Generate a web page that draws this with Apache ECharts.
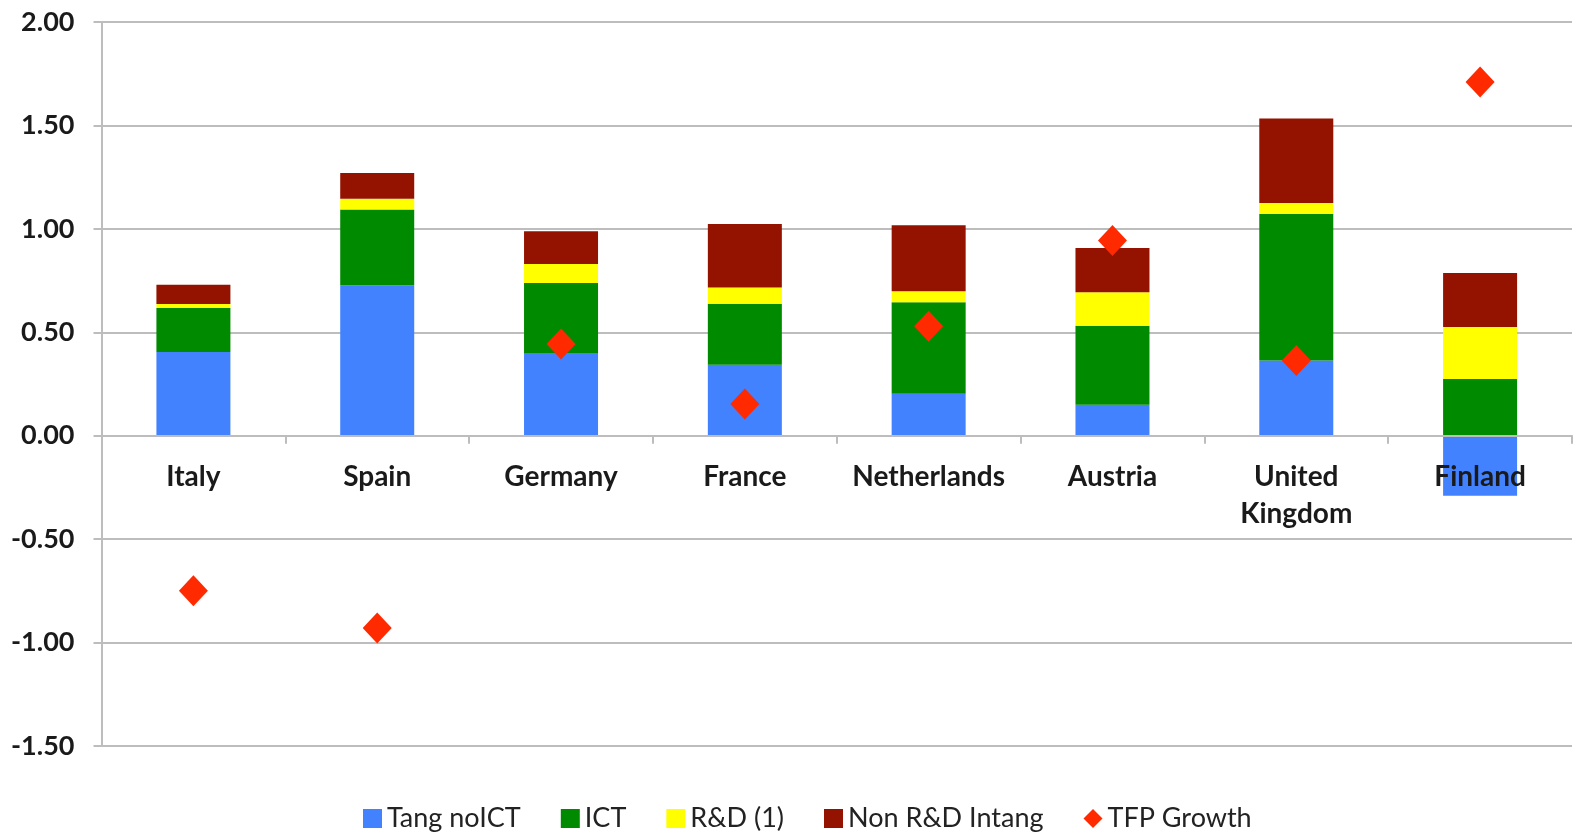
<!DOCTYPE html>
<html>
<head>
<meta charset="utf-8">
<script src="https://cdn.jsdelivr.net/npm/echarts@6/dist/echarts.min.js"></script>
<style>
html,body{margin:0;padding:0;background:#fff;}
#chart{width:1573px;height:833px;}
</style>
</head>
<body>
<div id="chart"></div>
<script>
const categories = ['Italy','Spain','Germany','France','Netherlands','Austria','United Kingdom','Finland'];
const tangNoICT = [0.405, 0.727, 0.400, 0.343, 0.203, 0.150, 0.364, -0.290];
const ict       = [0.212, 0.366, 0.338, 0.295, 0.442, 0.382, 0.708, 0.274];
const rnd       = [0.020, 0.053, 0.092, 0.079, 0.053, 0.161, 0.053, 0.252];
const nonRnd    = [0.093, 0.124, 0.158, 0.307, 0.319, 0.215, 0.408, 0.261];
const tfpGrowth = [-0.75, -0.93, 0.443, 0.153, 0.529, 0.944, 0.364, 1.71];
const yTicks = {min:-1.5, max:2, interval:0.5};

const W = 1573, H = 833;
const gridTop = 22, gridBottom = 87;
const gridH = H - gridTop - gridBottom;
const zeroOffset = -gridH * (0 - yTicks.min) / (yTicks.max - yTicks.min);

const chart = echarts.init(document.getElementById('chart'), null, {renderer:'canvas'});
const gridColor = '#bdbdbd';
const barSeries = (name, data, color) => ({
  name, type:'bar', stack:'total', data, barWidth:74,
  itemStyle:{color}, emphasis:{disabled:true}
});
chart.setOption({
  animation:false,
  backgroundColor:'#ffffff',
  grid:{left:101.5, right:1, top:gridTop, bottom:gridBottom, containLabel:false, outerBoundsMode:'none'},
  legend:{
    top:800, left:358,
    itemWidth:19, itemHeight:19, itemGap:40,
    textStyle:{fontFamily:'Lato', fontSize:27, color:'#222'},
    data:[
      {name:'Tang noICT', icon:'rect'},
      {name:'ICT', icon:'rect'},
      {name:'R&D (1)', icon:'rect'},
      {name:'Non R&D Intang', icon:'rect'},
      {name:'TFP Growth', icon:'diamond'}
    ]
  },
  xAxis:{
    type:'category', data:categories, z:10,
    position:'bottom', offset:zeroOffset,
    axisLine:{onZero:false, lineStyle:{color:gridColor, width:2}},
    axisTick:{show:true, length:8, lineStyle:{color:gridColor, width:2}},
    axisLabel:{
      fontFamily:'Lato', fontWeight:'bold', fontSize:28, color:'#1a1a1a',
      margin:23, lineHeight:37, interval:0,
      formatter: v => v.replace(' ', '\n')
    }
  },
  yAxis:{
    type:'value', min:yTicks.min, max:yTicks.max, interval:yTicks.interval,
    axisLine:{show:true, lineStyle:{color:gridColor, width:2}},
    axisTick:{show:true, length:8, lineStyle:{color:gridColor, width:2}},
    splitLine:{show:true, lineStyle:{color:gridColor, width:2}},
    axisLabel:{
      fontFamily:'Lato', fontWeight:'bold', fontSize:27, color:'#1a1a1a',
      margin:27, formatter: v => v.toFixed(2)
    }
  },
  series:[
    barSeries('Tang noICT', tangNoICT, '#4282ff'),
    barSeries('ICT', ict, '#008a00'),
    barSeries('R&D (1)', rnd, '#ffff00'),
    barSeries('Non R&D Intang', nonRnd, '#941300'),
    {
      name:'TFP Growth', type:'scatter', data:tfpGrowth,
      symbol:'diamond', symbolSize:[29,31], z:5,
      itemStyle:{color:'#ff2a00', opacity:1}, emphasis:{disabled:true}
    }
  ]
});
</script>
</body>
</html>
